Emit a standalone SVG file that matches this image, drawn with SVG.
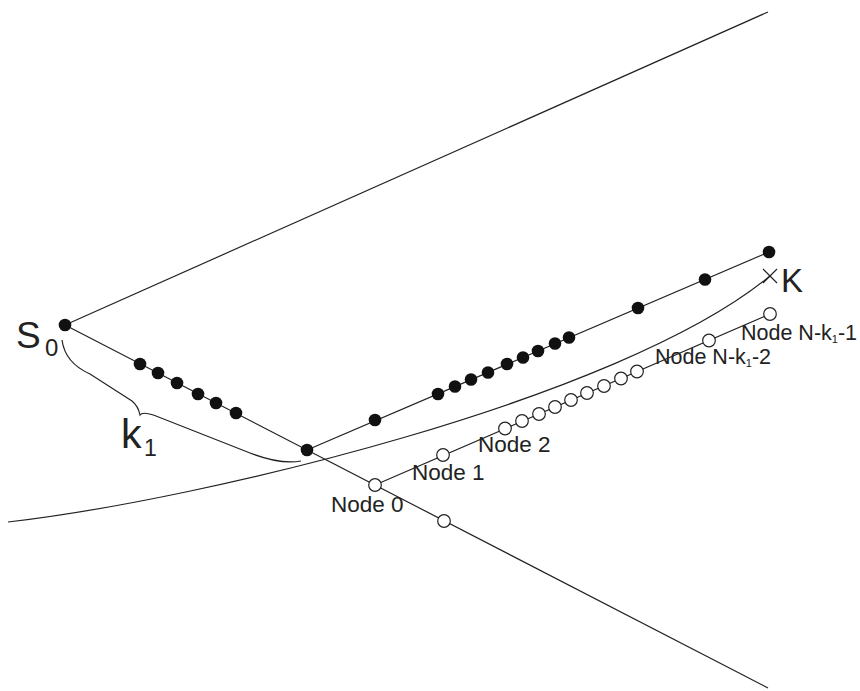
<svg xmlns="http://www.w3.org/2000/svg" width="860" height="691" viewBox="0 0 860 691">
<style>
.ln{fill:none;stroke:#222;stroke-width:1.2}
.f{fill:#111;stroke:none}
.o{fill:#fff;stroke:#222;stroke-width:1.2}
.t{font-family:"Liberation Sans",Arial,sans-serif;fill:#222}
.nl{font-size:22.5px}
.nll{font-size:21.5px}
</style>
<rect width="860" height="691" fill="#fff"/>
<g id="connectors">
<line class="ln" x1="65" y1="325" x2="768" y2="12"/>
<line class="ln" x1="65" y1="325" x2="768" y2="688"/>
<line class="ln" x1="307" y1="450" x2="769" y2="252"/>
<line class="ln" x1="375" y1="485" x2="770" y2="314"/>
<path class="ln" d="M8,522 C200,500 620,400 770,276"/>
<path class="ln" d="M62,340 C64,355 72,366 90,374 L132,401 C137,405 139,410 140,415 C142,412 148,413 156,416 L250,453 C268,460 285,464 301,461"/>
</g>
<g id="S0">
<circle class="f" cx="65" cy="325" r="6.3"/>
<text class="t" x="16" y="348" font-size="37">S</text>
<text class="t" x="45" y="356" font-size="24">0</text>
</g>
<g id="k1label">
<text class="t" x="121" y="448" font-size="41">k</text>
<text class="t" x="144" y="456" font-size="23">1</text>
</g>
<g id="K">
<path class="ln" d="M763,269 L777,283 M763,283 L777,269"/>
<text class="t" x="781" y="292" font-size="33">K</text>
</g>
<g id="filled-lower">
<circle class="f" cx="140" cy="364" r="6.3"/>
<circle class="f" cx="158" cy="373" r="6.3"/>
<circle class="f" cx="177" cy="383" r="6.3"/>
<circle class="f" cx="198" cy="394" r="6.3"/>
<circle class="f" cx="216" cy="403" r="6.3"/>
<circle class="f" cx="236" cy="413" r="6.3"/>
</g>
<g id="turn">
<circle class="f" cx="307" cy="450" r="6.3"/>
</g>
<g id="filled-upper">
<circle class="f" cx="375" cy="420" r="6.3"/>
<circle class="f" cx="438" cy="394" r="6.3"/>
<circle class="f" cx="455" cy="386.5" r="6.3"/>
<circle class="f" cx="471" cy="379.5" r="6.3"/>
<circle class="f" cx="488" cy="372.5" r="6.3"/>
<circle class="f" cx="507" cy="364" r="6.3"/>
<circle class="f" cx="523" cy="357.5" r="6.3"/>
<circle class="f" cx="538" cy="351" r="6.3"/>
<circle class="f" cx="555" cy="343.5" r="6.3"/>
<circle class="f" cx="569" cy="337.5" r="6.3"/>
<circle class="f" cx="638" cy="308" r="6.3"/>
<circle class="f" cx="705" cy="279.5" r="6.3"/>
<circle class="f" cx="769" cy="252" r="6.3"/>
</g>
<g id="node0">
<circle class="o" cx="375" cy="485" r="6.3"/>
<text class="t nl" x="331" y="512">Node 0</text>
</g>
<g id="open-lower">
<circle class="o" cx="444" cy="521" r="6.3"/>
</g>
<g id="node1">
<circle class="o" cx="443" cy="455" r="6.3"/>
<text class="t nl" x="412" y="480">Node 1</text>
</g>
<g id="node2-group">
<circle class="o" cx="505" cy="428.5" r="6.3"/>
<circle class="o" cx="522" cy="421" r="6.3"/>
<circle class="o" cx="539" cy="414" r="6.3"/>
<circle class="o" cx="555" cy="407" r="6.3"/>
<circle class="o" cx="571" cy="400" r="6.3"/>
<circle class="o" cx="587" cy="393" r="6.3"/>
<circle class="o" cx="604" cy="386" r="6.3"/>
<circle class="o" cx="621" cy="378.5" r="6.3"/>
<circle class="o" cx="637" cy="371.5" r="6.3"/>
<text class="t nl" x="478" y="452">Node 2</text>
</g>
<g id="nodeNk2">
<circle class="o" cx="709" cy="340.5" r="6.3"/>
<text class="t nll" x="655" y="364">Node N-k<tspan font-size="11" dy="3">1</tspan><tspan dy="-3">-2</tspan></text>
</g>
<g id="nodeNk1">
<circle class="o" cx="770" cy="314" r="6.3"/>
<text class="t nll" x="741" y="340">Node N-k<tspan font-size="11" dy="3">1</tspan><tspan dy="-3">-1</tspan></text>
</g>
</svg>
